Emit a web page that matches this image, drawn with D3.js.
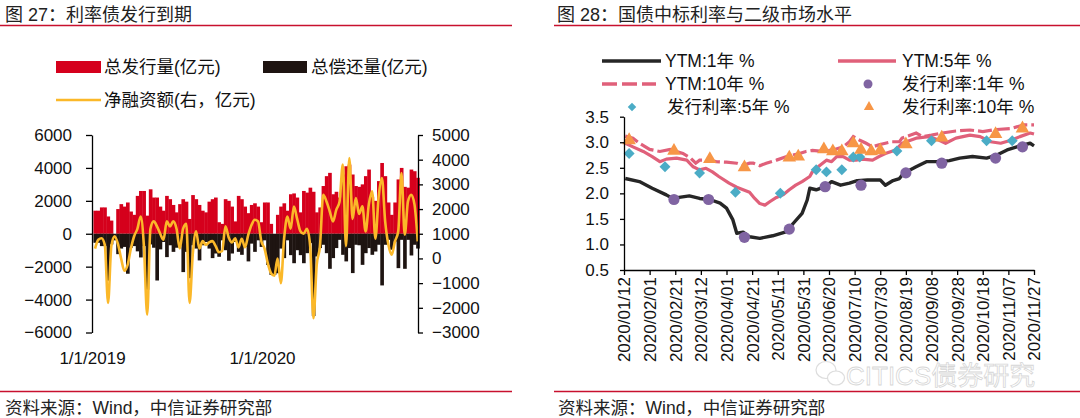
<!DOCTYPE html>
<html><head><meta charset="utf-8">
<script src="https://cdn.jsdelivr.net/npm/d3@7"></script>
<style>
body{margin:0;background:#fff;}
svg{display:block;font-family:"Liberation Sans",Arial,"Noto Sans CJK SC",sans-serif;}
</style></head><body>
<svg id="c" width="1080" height="418"></svg>
<script>
// ---------- Left chart data (weekly, 亿元) ----------
const weekStart = "2019-01-04";
const issue = [1400,1400,1600,1600,1050,800,0,1500,1800,1650,1900,1350,1150,2300,2600,2600,1100,2700,2200,2200,
1650,1400,2300,2100,1750,1300,1800,2100,1950,900,2350,2100,1750,1400,1300,1950,2100,2200,700,600,
2100,2000,1650,750,2300,2100,1650,1250,1750,1850,1650,700,1900,1900,600,0,1150,1650,1850,1400,
2400,2450,2200,1300,2600,2500,2800,2550,1300,1600,2900,3500,3700,2400,2550,2200,3600,4100,4200,3600,
2900,2850,3000,3500,3900,2250,2000,3200,4300,3500,1900,1150,1900,3300,4000,2850,2800,3900,3800,3400];
const redeem = [-550,-550,-750,-750,-2850,-650,-400,-1240,-900,-800,-2430,-850,-750,-1070,-1440,-750,-3400,-650,-850,-2840,
-950,-500,-1420,-700,-1100,-850,-700,-2330,-1100,-2700,-700,-900,-1620,-700,-500,-900,-1480,-1200,-1400,-400,
-1000,-1640,-1200,-500,-1100,-1280,-800,-1680,-600,-1100,-400,-800,-400,-1900,-2500,-2500,-2400,-900,-1480,-400,
-1300,-1790,-1000,-1300,-1790,-1180,-570,-5000,-1380,-870,-670,-1180,-2130,-1480,-870,-370,-1280,-1680,-870,-2390,
-670,-700,-1890,-1180,-870,-1280,-1080,-670,-3140,-670,-370,-970,-470,-2090,-370,-2130,-370,-1320,-670,-900];
const net = [400,760,820,550,-1800,500,900,600,0,-500,-260,400,900,1200,1700,500,-2280,1200,1500,1300,
1000,760,1500,1300,1500,1200,400,1200,1400,-1800,200,1100,400,700,550,650,700,500,250,300,
1300,850,650,820,450,800,450,950,1350,1570,1500,700,400,-200,-600,-700,0,-1000,800,1700,
1200,2100,1600,1100,1000,1200,500,-2420,-260,500,2580,2310,1910,1500,1970,2300,3800,500,4070,1600,
2450,1800,2110,1090,2200,2720,800,2500,3260,1500,550,150,690,1090,3460,960,2310,2580,2180,690];
const leftTicks = [-6000,-4000,-2000,0,2000,4000,6000];
const rightTicks = [-3000,-2000,-1000,0,1000,2000,3000,4000,5000];
const leftDateLabels = ["2019-01-01","2020-01-01"];

// ---------- Right chart data ----------
const ytm1 = [["2020-01-13",2.29],["2020-01-24",2.23],["2020-02-03",2.10],["2020-02-14",1.97],["2020-02-19",1.90],["2020-02-24",1.92],["2020-03-03",1.95],["2020-03-11",1.90],["2020-03-19",1.88],["2020-03-27",1.81],["2020-04-01",1.71],["2020-04-06",1.48],["2020-04-09",1.22],["2020-04-14",1.24],["2020-04-19",1.15],["2020-04-27",1.12],["2020-05-07",1.17],["2020-05-18",1.25],["2020-05-23",1.41],["2020-05-30",1.61],["2020-06-03",1.87],["2020-06-05",2.10],["2020-06-10",2.07],["2020-06-17",2.13],["2020-06-22",2.23],["2020-06-29",2.16],["2020-07-06",2.20],["2020-07-12",2.25],["2020-07-20",2.26],["2020-07-30",2.26],["2020-08-03",2.16],["2020-08-09",2.25],["2020-08-14",2.29],["2020-08-17",2.39],["2020-08-27",2.52],["2020-09-04",2.62],["2020-09-15",2.62],["2020-09-22",2.64],["2020-09-30",2.69],["2020-10-10",2.72],["2020-10-21",2.69],["2020-10-29",2.75],["2020-11-06",2.85],["2020-11-16",2.93],["2020-11-24",2.98],["2020-11-27",2.93]];
const ytm5 = [["2020-01-13",2.98],["2020-01-19",2.91],["2020-01-27",2.82],["2020-02-03",2.72],["2020-02-09",2.62],["2020-02-14",2.67],["2020-02-22",2.69],["2020-03-01",2.65],["2020-03-06",2.52],["2020-03-11",2.46],["2020-03-16",2.49],["2020-03-21",2.42],["2020-03-26",2.33],["2020-04-03",2.20],["2020-04-09",2.12],["2020-04-14",2.07],["2020-04-19",2.02],["2020-04-23",1.90],["2020-04-27",1.80],["2020-05-01",1.77],["2020-05-05",1.84],["2020-05-10",1.92],["2020-05-15",1.97],["2020-05-20",2.07],["2020-05-25",2.16],["2020-05-30",2.23],["2020-06-05",2.33],["2020-06-07",2.42],["2020-06-13",2.55],["2020-06-18",2.65],["2020-06-22",2.62],["2020-06-26",2.72],["2020-07-01",2.72],["2020-07-06",2.65],["2020-07-11",2.65],["2020-07-16",2.67],["2020-07-24",2.65],["2020-07-29",2.72],["2020-08-03",2.78],["2020-08-11",2.85],["2020-08-16",2.98],["2020-08-27",3.08],["2020-09-06",3.11],["2020-09-14",3.04],["2020-09-19",2.98],["2020-09-27",3.08],["2020-10-08",3.14],["2020-10-16",3.11],["2020-10-24",3.01],["2020-11-01",2.98],["2020-11-09",3.04],["2020-11-16",3.11],["2020-11-24",3.18],["2020-11-27",3.16]];
const ytm10 = [["2020-01-13",3.12],["2020-01-19",3.08],["2020-01-24",2.98],["2020-02-01",2.86],["2020-02-09",2.82],["2020-02-17",2.86],["2020-02-22",2.82],["2020-02-27",2.78],["2020-03-04",2.69],["2020-03-08",2.59],["2020-03-11",2.65],["2020-03-16",2.65],["2020-03-24",2.62],["2020-04-01",2.61],["2020-04-09",2.59],["2020-04-14",2.55],["2020-04-19",2.59],["2020-04-22",2.59],["2020-04-27",2.54],["2020-05-02",2.59],["2020-05-10",2.65],["2020-05-18",2.72],["2020-05-28",2.78],["2020-06-02",2.82],["2020-06-07",2.84],["2020-06-15",2.82],["2020-06-23",2.85],["2020-07-01",2.91],["2020-07-06",3.01],["2020-07-09",3.11],["2020-07-14",3.04],["2020-07-19",2.98],["2020-07-24",2.91],["2020-07-29",2.95],["2020-08-03",2.98],["2020-08-08",3.01],["2020-08-14",3.01],["2020-08-16",3.08],["2020-08-27",3.18],["2020-09-01",3.11],["2020-09-08",3.14],["2020-09-16",3.18],["2020-09-27",3.22],["2020-10-08",3.24],["2020-10-18",3.21],["2020-10-29",3.25],["2020-11-09",3.27],["2020-11-19",3.34],["2020-11-27",3.34]];
const issue1 = [["2020-02-20",1.88],["2020-03-18",1.88],["2020-04-15",1.14],["2020-05-20",1.30],["2020-06-17",2.13],["2020-07-15",2.16],["2020-08-19",2.40],["2020-09-16",2.59],["2020-10-28",2.69],["2020-11-18",2.91]];
const issue5 = [["2020-01-16",2.78],["2020-02-13",2.52],["2020-03-11",2.40],["2020-04-08",2.02],["2020-05-13",2.00],["2020-06-10",2.46],["2020-06-18",2.42],["2020-06-30",2.46],["2020-07-09",2.71],["2020-07-14",2.71],["2020-08-12",2.83],["2020-09-08",3.03],["2020-10-21",3.03],["2020-11-10",3.03]];
const issue10 = [["2020-01-16",3.04],["2020-02-20",2.83],["2020-03-19",2.67],["2020-04-15",2.51],["2020-05-20",2.70],["2020-05-27",2.72],["2020-06-16",2.86],["2020-06-23",2.82],["2020-06-30",2.82],["2020-07-09",2.98],["2020-07-15",2.85],["2020-07-23",2.82],["2020-07-30",2.84],["2020-08-19",2.96],["2020-09-16",3.09],["2020-10-28",3.16],["2020-11-18",3.27]];
const rateTicks = [0.5,1.0,1.5,2.0,2.5,3.0,3.5];
const dateTicks = ["2020-01-12","2020-02-01","2020-02-21","2020-03-12","2020-04-01","2020-04-21","2020-05-11","2020-05-31","2020-06-20","2020-07-10","2020-07-30","2020-08-19","2020-09-08","2020-09-28","2020-10-18","2020-11-07","2020-11-27"];

// ---------- drawing ----------
const parse = d3.timeParse("%Y-%m-%d");
const svg = d3.select("#c");
const FS = 17, FT = 18, FL = 17.5;
const C = {red:"#d5001c", blk:"#1e1411", yel:"#fbb829", rule:"#c8102e",
  l1:"#262626", pink:"#e0607a", pur:"#8064a2", cyan:"#4bacc6", org:"#f79646"};

function styleAxis(g){
  g.selectAll("path.domain").attr("stroke","#000").attr("stroke-width",1.3);
  g.selectAll(".tick line").attr("stroke","#000").attr("stroke-width",1.3);
  g.selectAll(".tick text").attr("font-size",FS).attr("fill","#111").attr("font-family",null);
}

// Titles, rules, sources
svg.append("text").attr("x",5).attr("y",15).attr("dy","0.35em").attr("font-size",FT).attr("fill","#222").text("图 27：利率债发行到期");
svg.append("text").attr("x",557).attr("y",15).attr("dy","0.35em").attr("font-size",FT).attr("fill","#222").text("图 28：国债中标利率与二级市场水平");
svg.append("line").attr("x1",0).attr("x2",512).attr("y1",25.5).attr("y2",25.5).attr("stroke",C.rule).attr("stroke-width",1.5);
svg.append("line").attr("x1",554).attr("x2",1080).attr("y1",25.5).attr("y2",25.5).attr("stroke",C.rule).attr("stroke-width",1.5);
svg.append("line").attr("x1",0).attr("x2",512).attr("y1",391.5).attr("y2",391.5).attr("stroke",C.rule).attr("stroke-width",1.5);
svg.append("line").attr("x1",554).attr("x2",1080).attr("y1",391.5).attr("y2",391.5).attr("stroke",C.rule).attr("stroke-width",1.5);
svg.append("text").attr("x",5).attr("y",408).attr("dy","0.35em").attr("font-size",FL).attr("fill","#222").text("资料来源：Wind，中信证券研究部");
svg.append("text").attr("x",558).attr("y",408).attr("dy","0.35em").attr("font-size",FL).attr("fill","#222").text("资料来源：Wind，中信证券研究部");

// ===== Left chart =====
const weeks = issue.map((d,i)=>d3.timeDay.offset(parse(weekStart),7*i));
const xL = d3.scaleTime().domain([parse("2019-01-01"),parse("2020-12-01")]).range([92,418]);
const yL = d3.scaleLinear().domain([-6000,6000]).range([332.5,135]);
const yR = d3.scaleLinear().domain([-3000,5000]).range([332.5,135]);
const bw = i => xL(d3.timeDay.offset(weeks[i],7)) - xL(weeks[i]);

const gL = svg.append("g");
gL.selectAll("rect.iss").data(issue).join("rect").attr("class","iss")
  .attr("x",(d,i)=>xL(weeks[i])).attr("width",(d,i)=>bw(i)+0.4)
  .attr("y",d=>yL(d)).attr("height",d=>yL(0)-yL(d)).attr("fill",C.red);
gL.selectAll("rect.red").data(redeem).join("rect").attr("class","red")
  .attr("x",(d,i)=>xL(weeks[i])).attr("width",(d,i)=>bw(i)+0.4)
  .attr("y",yL(0)).attr("height",d=>yL(d)-yL(0)).attr("fill",C.blk);
const netLine = d3.line().x((d,i)=>xL(new Date(+weeks[i]+3.5*864e5))).y(d=>yR(d)).curve(d3.curveMonotoneX);
gL.append("path").datum(net).attr("d",netLine).attr("fill","none").attr("stroke",C.yel).attr("stroke-width",2.6).attr("stroke-linejoin","round");

const axL = svg.append("g").attr("transform","translate(92,0)")
  .call(d3.axisLeft(yL).tickValues(leftTicks).tickSize(6).tickSizeOuter(0).tickPadding(14).tickFormat(d3.format("d")));
styleAxis(axL);
const axR = svg.append("g").attr("transform","translate(418,0)")
  .call(d3.axisRight(yR).tickValues(rightTicks).tickSize(5).tickSizeOuter(0).tickPadding(9).tickFormat(d3.format("d")));
styleAxis(axR);
const axB = svg.append("g").attr("transform","translate(0,358)")
  .call(d3.axisBottom(xL).tickValues(leftDateLabels.map(parse)).tickSize(0).tickFormat(d3.timeFormat("%-m/%-d/%Y")));
axB.select("path.domain").remove();
styleAxis(axB);
axB.selectAll(".tick text").attr("y",0).attr("dy","0.35em");

// left legend
svg.append("rect").attr("x",56).attr("y",61).attr("width",45).attr("height",12).attr("fill",C.red);
svg.append("text").attr("x",104).attr("y",67).attr("dy","0.35em").attr("font-size",FL).attr("fill","#111").text("总发行量(亿元)");
svg.append("rect").attr("x",263).attr("y",61).attr("width",44).attr("height",12).attr("fill",C.blk);
svg.append("text").attr("x",311).attr("y",67).attr("dy","0.35em").attr("font-size",FL).attr("fill","#111").text("总偿还量(亿元)");
svg.append("line").attr("x1",56).attr("x2",101).attr("y1",100).attr("y2",100).attr("stroke",C.yel).attr("stroke-width",2.6);
svg.append("text").attr("x",104).attr("y",100).attr("dy","0.35em").attr("font-size",FL).attr("fill","#111").text("净融资额(右，亿元)");

// ===== Right chart =====
const xR = d3.scaleTime().domain([parse("2020-01-12"),parse("2020-11-27")]).range([624,1034]);
const yQ = d3.scaleLinear().domain([0.5,3.5]).range([270,116.7]);
const line = d3.line().x(d=>xR(parse(d[0]))).y(d=>yQ(d[1]));
const gR = svg.append("g");
gR.append("path").datum(ytm10).attr("d",line).attr("fill","none").attr("stroke",C.pink).attr("stroke-width",3.2).attr("stroke-dasharray","14,4");
gR.append("path").datum(ytm5).attr("d",line).attr("fill","none").attr("stroke",C.pink).attr("stroke-width",3.2).attr("stroke-linejoin","round");
gR.append("path").datum(ytm1).attr("d",line).attr("fill","none").attr("stroke",C.l1).attr("stroke-width",3.4).attr("stroke-linejoin","round");

const diamond = d3.symbol().type(d3.symbolSquare).size(60);
const tri = d3.symbol().type(d3.symbolTriangle).size(80);
gR.selectAll("circle.p1").data(issue1).join("circle").attr("cx",d=>xR(parse(d[0]))).attr("cy",d=>yQ(d[1])).attr("r",5.6).attr("fill",C.pur);
gR.selectAll("path.p5").data(issue5).join("path").attr("d",diamond)
  .attr("transform",d=>`translate(${xR(parse(d[0]))},${yQ(d[1])}) rotate(45)`).attr("fill",C.cyan);
gR.selectAll("path.p10").data(issue10).join("path").attr("d",tri)
  .attr("transform",d=>`translate(${xR(parse(d[0]))},${yQ(d[1])})`).attr("fill",C.org);

const ayR = svg.append("g").attr("transform","translate(624,0)")
  .call(d3.axisLeft(yQ).tickValues(rateTicks).tickSize(4).tickSizeOuter(0).tickPadding(11).tickFormat(d3.format(".1f")));
styleAxis(ayR);
const axRb = svg.append("g").attr("transform","translate(0,270)")
  .call(d3.axisBottom(xR).tickValues(dateTicks.map(parse)).tickSize(5).tickSizeOuter(0).tickFormat(d3.timeFormat("%Y/%m/%d")));
styleAxis(axRb);
axRb.selectAll(".tick text").attr("transform","rotate(-90)").attr("text-anchor","end").attr("x",-7).attr("y",0).attr("dy","0.35em");

// right legend
const lg = svg.append("g");
lg.append("line").attr("x1",602).attr("x2",661).attr("y1",61).attr("y2",61).attr("stroke",C.l1).attr("stroke-width",3.4);
lg.append("text").attr("x",665).attr("y",61).attr("dy","0.35em").attr("font-size",FL).attr("fill","#111").text("YTM:1年 %");
lg.append("line").attr("x1",838).attr("x2",896).attr("y1",61).attr("y2",61).attr("stroke",C.pink).attr("stroke-width",3.4);
lg.append("text").attr("x",902).attr("y",61).attr("dy","0.35em").attr("font-size",FL).attr("fill","#111").text("YTM:5年 %");
lg.append("line").attr("x1",602).attr("x2",656).attr("y1",84).attr("y2",84).attr("stroke",C.pink).attr("stroke-width",3.4).attr("stroke-dasharray","15,5");
lg.append("text").attr("x",665).attr("y",84).attr("dy","0.35em").attr("font-size",FL).attr("fill","#111").text("YTM:10年 %");
lg.append("circle").attr("cx",868).attr("cy",84).attr("r",4.5).attr("fill",C.pur);
lg.append("text").attr("x",902).attr("y",84).attr("dy","0.35em").attr("font-size",FL).attr("fill","#111").text("发行利率:1年 %");
lg.append("path").attr("d",d3.symbol().type(d3.symbolSquare).size(36)).attr("transform","translate(632,107) rotate(45)").attr("fill",C.cyan);
lg.append("text").attr("x",667).attr("y",107).attr("dy","0.35em").attr("font-size",FL).attr("fill","#111").text("发行利率:5年 %");
lg.append("path").attr("d",d3.symbol().type(d3.symbolTriangle).size(45)).attr("transform","translate(869,107)").attr("fill",C.org);
lg.append("text").attr("x",902).attr("y",107).attr("dy","0.35em").attr("font-size",FL).attr("fill","#111").text("发行利率:10年 %");

// watermark
const wm = svg.append("g").attr("opacity",0.4);
wm.append("ellipse").attr("cx",826).attr("cy",370).attr("rx",10).attr("ry",8.5).attr("fill","none").attr("stroke","#aaa").attr("stroke-width",1.2);
wm.append("ellipse").attr("cx",836).attr("cy",378).attr("rx",8.5).attr("ry",7).attr("fill","#fff").attr("stroke","#aaa").attr("stroke-width",1.2);
wm.append("text").attr("x",846).attr("y",385).attr("font-size",26).attr("fill","#fff").attr("stroke","#999").attr("stroke-width",0.8).text("CITICS债券研究");
</script></body></html>
